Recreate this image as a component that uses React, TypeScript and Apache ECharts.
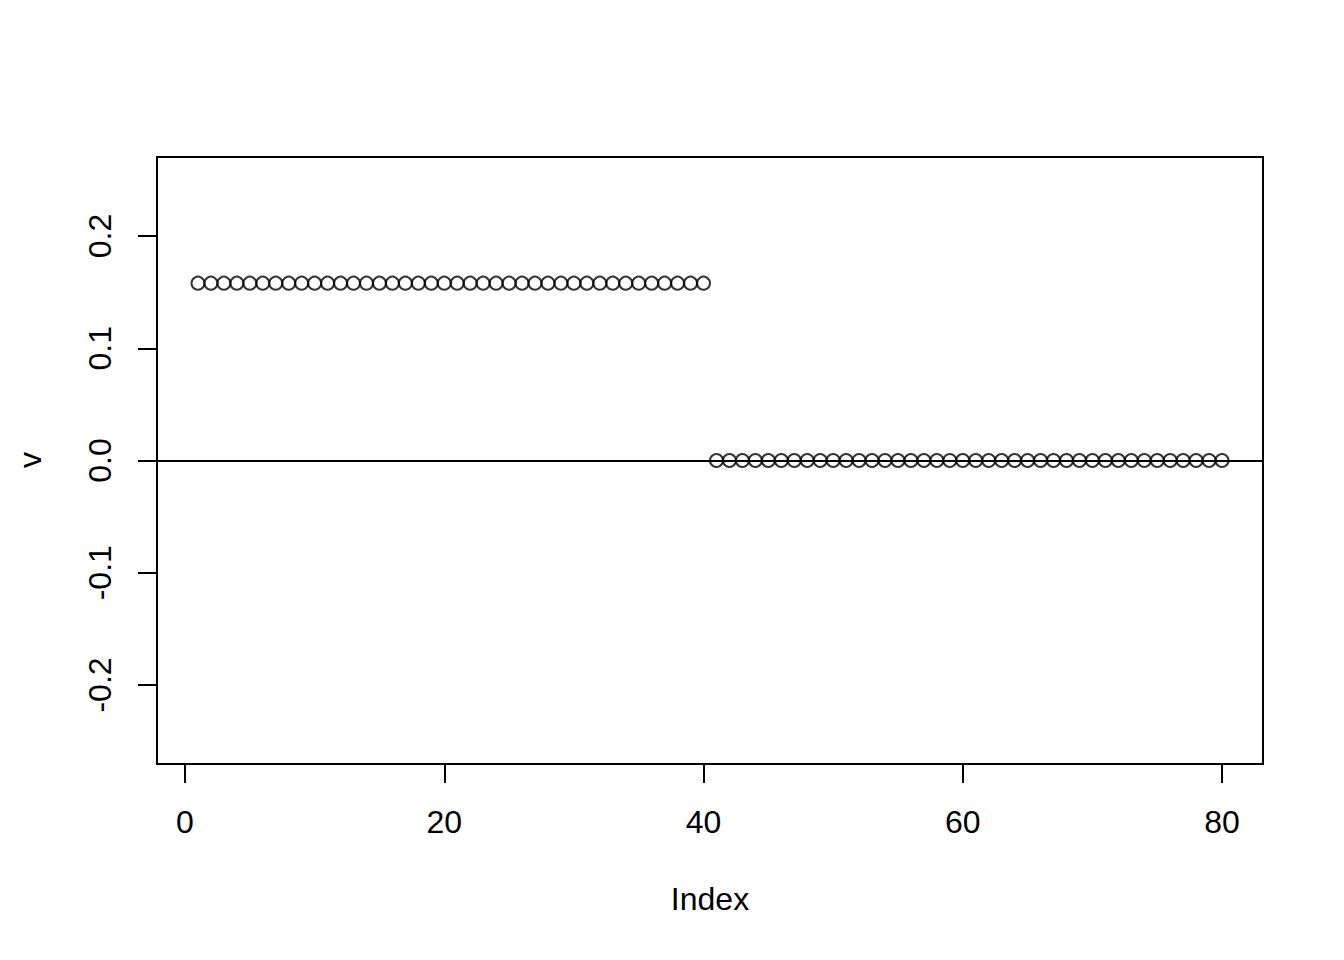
import React, { useEffect, useRef } from "react";
import * as echarts from "echarts";

const vValues: number[] = [
  0.158, 0.158, 0.158, 0.158, 0.158, 0.158, 0.158, 0.158, 0.158, 0.158,
  0.158, 0.158, 0.158, 0.158, 0.158, 0.158, 0.158, 0.158, 0.158, 0.158,
  0.158, 0.158, 0.158, 0.158, 0.158, 0.158, 0.158, 0.158, 0.158, 0.158,
  0.158, 0.158, 0.158, 0.158, 0.158, 0.158, 0.158, 0.158, 0.158, 0.158,
  0, 0, 0, 0, 0, 0, 0, 0, 0, 0,
  0, 0, 0, 0, 0, 0, 0, 0, 0, 0,
  0, 0, 0, 0, 0, 0, 0, 0, 0, 0,
  0, 0, 0, 0, 0, 0, 0, 0, 0, 0,
];
const xTicks: number[] = [0, 20, 40, 60, 80];
const yTicks: number[] = [-0.2, -0.1, 0, 0.1, 0.2];
const xLabel = "Index";
const yLabel = "v";

const FONT = "'Liberation Sans', Arial, Helvetica, sans-serif";

export default function App() {
  const ref = useRef<HTMLDivElement>(null);
  useEffect(() => {
    if (!ref.current) return;
    const chart = echarts.init(ref.current, null, { renderer: "svg" });
    const points = vValues.map((v, i) => [i + 1, v]);
    chart.setOption({
      animation: false,
      backgroundColor: "#ffffff",
      grid: {
        left: 157,
        top: 157,
        width: 1106,
        height: 607,
        show: true,
        borderColor: "#000",
        borderWidth: 2,
        backgroundColor: "transparent",
      },
      xAxis: {
        type: "value",
        position: "bottom",
        min: -2.16,
        max: 83.16,
        splitLine: { show: false },
        axisLine: { show: false, onZero: false },
        axisTick: {
          show: true,
          length: 19,
          inside: false,
          customValues: xTicks,
          lineStyle: { color: "#000", width: 2 },
        },
        axisLabel: {
          show: true,
          customValues: xTicks,
          margin: 42,
          fontSize: 32,
          fontFamily: FONT,
          color: "#000",
          formatter: (v: number) => String(v),
        },
      },
      yAxis: {
        type: "value",
        position: "left",
        min: -0.2704,
        max: 0.2704,
        splitLine: { show: false },
        axisLine: { show: false, onZero: false },
        axisTick: {
          show: true,
          length: 19,
          inside: false,
          customValues: yTicks,
          lineStyle: { color: "#000", width: 2 },
        },
        axisLabel: {
          show: true,
          customValues: yTicks,
          rotate: 90,
          margin: 41,
          fontSize: 32,
          fontFamily: FONT,
          color: "#000",
          formatter: (v: number) => v.toFixed(1),
        },
      },
      graphic: [
        {
          type: "text",
          x: 710,
          y: 899,
          style: {
            text: xLabel,
            fontSize: 32,
            fontFamily: FONT,
            fill: "#000",
            textAlign: "center",
            textVerticalAlign: "middle",
          },
        },
        {
          type: "text",
          x: 30,
          y: 460,
          rotation: Math.PI / 2,
          style: {
            text: yLabel,
            fontSize: 32,
            fontFamily: FONT,
            fill: "#000",
            textAlign: "center",
            textVerticalAlign: "middle",
          },
        },
      ],
      series: [
        {
          type: "scatter",
          data: points,
          symbol: "circle",
          symbolSize: 13,
          itemStyle: {
            color: "rgba(0,0,0,0)",
            borderColor: "#000",
            borderWidth: 2,
          },
          emphasis: { disabled: true },
          silent: true,
          markLine: {
            silent: true,
            symbol: "none",
            label: { show: false },
            lineStyle: { color: "#000", width: 2, type: "solid" },
            data: [{ yAxis: 0 }],
          },
        },
      ],
    });
    return () => chart.dispose();
  }, []);
  return (
    <div
      ref={ref}
      style={{ position: "absolute", left: 0, top: 0, width: 1344, height: 960 }}
    />
  );
}
